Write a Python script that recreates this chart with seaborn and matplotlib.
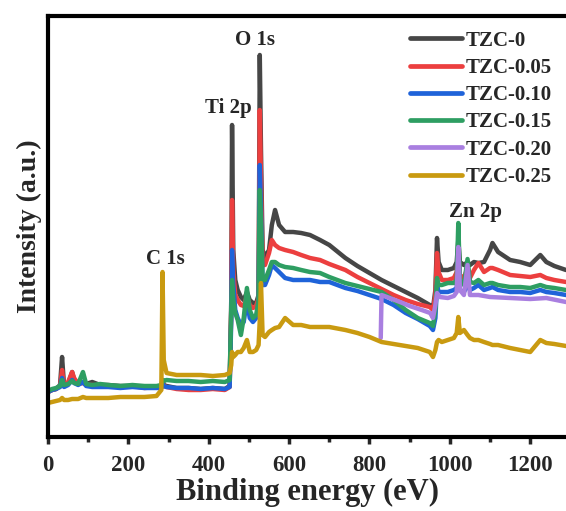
import pandas as pd
import matplotlib
matplotlib.use('Agg')
import matplotlib.pyplot as plt
from matplotlib.ticker import MultipleLocator
import seaborn as sns

# energia (eV) - zajednicka mreza za vecinu uzoraka
energy = [0, 10, 20, 30, 35, 40, 50, 60, 65, 75, 87, 95, 110, 130, 150, 180, 210, 240, 270, 282,
          285, 288, 295, 320, 350, 380, 410, 440, 452, 456, 458, 461, 466, 472, 480, 487, 495, 502,
          510, 518, 524, 527, 530, 534, 540, 550, 557, 565, 575, 590, 610, 630, 652, 677, 700, 740,
          770, 800, 830, 860, 890, 920, 950, 958, 964, 968, 972, 980, 995, 1010, 1017, 1021, 1025,
          1035, 1044, 1050, 1060, 1071, 1085, 1100, 1106, 1120, 1150, 1175, 1200, 1225, 1240, 1260, 1289]

tzc_0 = [45, 47, 48, 52, 80, 51, 53, 65, 57, 54, 55, 53, 55, 52, 52, 51, 51, 50, 50, 51,
         57, 52, 51, 49, 49, 48, 49, 48, 51, 137, 312, 187, 157, 147, 140, 137, 145, 137,
         134, 134, 142, 382, 287, 187, 180, 187, 212, 227, 212, 205, 205, 204, 202, 197, 192, 179,
         171, 164, 157, 151, 145, 139, 132, 129, 147, 199, 175, 167, 167, 169, 175, 197, 175,
         172, 175, 172, 175, 174, 175, 187, 194, 185, 177, 175, 172, 182, 175, 171, 167]

tzc_005 = [45, 47, 48, 51, 67, 51, 55, 65, 59, 53, 54, 52, 52, 51, 51, 50, 51, 49, 50, 50,
           55, 51, 50, 48, 47, 47, 48, 47, 50, 127, 237, 167, 142, 137, 132, 131, 141, 132,
           129, 131, 139, 327, 257, 172, 172, 184, 197, 192, 189, 187, 185, 182, 179, 177, 173, 167,
           160, 154, 148, 142, 137, 133, 130, 127, 142, 184, 165, 157, 157, 159, 165, 187, 162,
           159, 169, 159, 167, 174, 165, 169, 169, 167, 162, 161, 160, 162, 159, 157, 155]

tzc_010 = [45, 47, 48, 50, 59, 50, 52, 57, 54, 52, 55, 51, 50, 50, 50, 49, 50, 49, 49, 49,
           54, 51, 50, 49, 49, 48, 49, 48, 50, 117, 187, 152, 127, 119, 112, 115, 137, 119,
           115, 119, 132, 272, 227, 152, 152, 162, 172, 169, 165, 159, 157, 157, 157, 155, 155, 149,
           146, 142, 138, 132, 124, 118, 111, 107, 119, 152, 145, 145, 145, 147, 149, 177, 147,
           145, 152, 147, 149, 152, 147, 149, 150, 147, 145, 145, 144, 147, 145, 144, 142]

tzc_015 = [46, 48, 49, 51, 57, 52, 53, 56, 54, 53, 65, 53, 52, 53, 52, 51, 52, 51, 51, 52,
           57, 56, 57, 56, 56, 55, 56, 55, 57, 127, 157, 137, 124, 117, 102, 119, 149, 127,
           119, 122, 137, 247, 217, 157, 157, 167, 175, 175, 172, 170, 169, 167, 165, 164, 160, 154,
           151, 148, 145, 137, 127, 119, 114, 111, 127, 159, 152, 152, 154, 154, 157, 214, 157,
           152, 178, 155, 154, 157, 152, 154, 154, 152, 150, 150, 149, 152, 150, 149, 147]

tzc_025 = [34, 35, 36, 37, 39, 37, 37, 38, 38, 38, 40, 39, 39, 39, 39, 40, 40, 40, 41, 47,
           165, 77, 64, 62, 62, 62, 61, 62, 64, 72, 85, 80, 82, 85, 85, 89, 97, 85,
           85, 87, 92, 117, 154, 102, 100, 105, 107, 109, 110, 119, 112, 112, 110, 110, 110, 107,
           104, 100, 95, 93, 91, 89, 85, 80, 87, 95, 97, 95, 97, 99, 104, 120, 104,
           107, 102, 99, 97, 97, 95, 93, 92, 92, 89, 87, 85, 97, 94, 93, 91]

# TZC-0.20 je snimljen samo od ~830 eV
energy_020 = [828, 830, 850, 876, 900, 930, 951, 958, 964, 968, 975, 995, 1010, 1017, 1021, 1025,
              1035, 1044, 1050, 1071, 1100, 1150, 1200, 1240, 1289]
tzc_020 = [99, 142, 139, 135, 131, 127, 124, 119, 132, 144, 140, 139, 141, 145, 190, 147,
           142, 172, 142, 142, 140, 139, 138, 139, 135]

uzorci = ['TZC-0', 'TZC-0.05', 'TZC-0.10', 'TZC-0.15', 'TZC-0.20', 'TZC-0.25']
boje = ['#464646', '#ec3f3f', '#1f63d9', '#2e9e62', '#a97fe0', '#c99a10']

# Pravljenje tabele u dugom formatu
delovi = []
for ime, x, y in [('TZC-0', energy, tzc_0), ('TZC-0.05', energy, tzc_005),
                  ('TZC-0.10', energy, tzc_010), ('TZC-0.15', energy, tzc_015),
                  ('TZC-0.20', energy_020, tzc_020), ('TZC-0.25', energy, tzc_025)]:
    delovi.append(pd.DataFrame({'energija': x, 'intenzitet': y, 'uzorak': ime}))
df = pd.concat(delovi, ignore_index=True)

sns.set_style('white')
plt.rcParams['font.family'] = ['Liberation Serif', 'DejaVu Serif']
plt.rcParams['font.weight'] = 'bold'

fig = plt.figure(figsize=(5.66, 5.11), dpi=100)
ax = fig.add_axes([48 / 566, 74 / 511, 1 - 48 / 566, 421 / 511])

sns.lineplot(data=df, x='energija', y='intenzitet', hue='uzorak', hue_order=uzorci,
             palette=boje, estimator=None, sort=False, linewidth=3.2, ax=ax)

ax.set_xlim(0, 1289)
ax.set_ylim(0, 421)
ax.set_yticks([])
ax.xaxis.set_major_locator(MultipleLocator(200))
ax.xaxis.set_minor_locator(MultipleLocator(100))
ax.tick_params(axis='x', which='major', direction='out', length=5, width=2.5, pad=8,
               labelsize=16.5, bottom=True)
ax.tick_params(axis='x', which='minor', direction='out', length=3.5, width=2.5, bottom=True)
for lab in ax.get_xticklabels():
    lab.set_fontweight('bold')

for s in ['left', 'top', 'bottom']:
    ax.spines[s].set_visible(True)
    ax.spines[s].set_linewidth(3)
    ax.spines[s].set_color('black')
    ax.spines[s].set_zorder(5)
ax.spines['right'].set_visible(False)

ax.set_xlabel('Binding energy (eV)', fontsize=22, fontweight='bold', labelpad=1)
ax.set_ylabel('Intensity (a.u.)', fontsize=20, fontweight='bold', labelpad=4)

# Oznake pikova
ax.text(514, 397, 'O 1s', fontsize=15, fontweight='bold', ha='center', va='center')
ax.text(448, 329, 'Ti 2p', fontsize=15, fontweight='bold', ha='center', va='center')
ax.text(291, 178, 'C 1s', fontsize=15, fontweight='bold', ha='center', va='center')
ax.text(1063, 225, 'Zn 2p', fontsize=15, fontweight='bold', ha='center', va='center')

leg = ax.legend(loc='upper right', frameon=False, handlelength=2.5,
                handletextpad=0.15, labelspacing=0.35, borderaxespad=0.3,
                prop={'weight': 'bold', 'size': 15})
for line in leg.get_lines():
    line.set_linewidth(3.4)

fig.savefig('out.png', dpi=100)
